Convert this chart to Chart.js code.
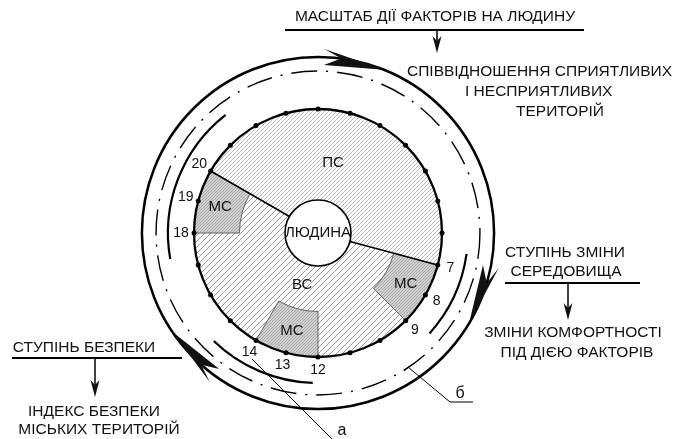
<!DOCTYPE html>
<html>
<head>
<meta charset="utf-8">
<script src="https://cdn.jsdelivr.net/npm/chart.js@4.4.0/dist/chart.umd.min.js"></script>
<style>
  html, body { margin: 0; padding: 0; background: #fff; }
  canvas { display: block; }
</style>
</head>
<body>
<canvas id="myChart" width="676" height="439"></canvas>
<script>
// Disk sectors, outer ring, clockwise from node 20 (span in degrees)
const outerRingNames = ['ПС', 'МС', 'ВС', 'МС', 'ВС', 'МС'];
const outerRingSpans = [165, 30, 45, 30, 60, 30];
// Inner ring, next to the person
const innerRingNames = ['ПС', 'ВС'];
const innerRingSpans = [165, 195];
// Points on the disk edge
const nodeCount = 24;
const numberedNodes = [7, 8, 9, 12, 13, 14, 18, 19, 20];
const centreLabel = 'ЛЮДИНА';
// Notes around the diagram
const topNote = 'МАСШТАБ ДІЇ ФАКТОРІВ НА ЛЮДИНУ';
const topResult = ['СПІВВІДНОШЕННЯ СПРИЯТЛИВИХ', 'І НЕСПРИЯТЛИВИХ', 'ТЕРИТОРІЙ'];
const rightNote = ['СТУПІНЬ ЗМІНИ', 'СЕРЕДОВИЩА'];
const rightResult = ['ЗМІНИ КОМФОРТНОСТІ', 'ПІД ДІЄЮ ФАКТОРІВ'];
const leftNote = 'СТУПІНЬ БЕЗПЕКИ';
const leftResult = ['ІНДЕКС БЕЗПЕКИ', 'МІСЬКИХ ТЕРИТОРІЙ'];
const ringMarks = ['а', 'б'];

const canvas = document.getElementById('myChart');
const ctx = canvas.getContext('2d');
const FONT = '"Liberation Sans", Arial, sans-serif';

// diagonal hatching
function hatch(gap, line, bg, width) {
  const c = document.createElement('canvas');
  c.width = gap; c.height = gap;
  const g = c.getContext('2d');
  g.fillStyle = bg;
  g.fillRect(0, 0, gap, gap);
  g.strokeStyle = line;
  g.lineWidth = width;
  g.beginPath();
  g.moveTo(-1, gap + 1); g.lineTo(gap + 1, -1);
  g.moveTo(-1, 1); g.lineTo(1, -1);
  g.moveTo(gap - 1, gap + 1); g.lineTo(gap + 1, gap - 1);
  g.stroke();
  return ctx.createPattern(c, 'repeat');
}

const fills = {
  'ПС': hatch(4, '#a8a8a8', '#ffffff', 0.8),
  'ВС': hatch(6, '#8c8c8c', '#ffffff', 0.9),
  'МС': hatch(3, '#9a9a9a', '#d0d0d0', 0.7)
};

const rad = d => d * Math.PI / 180;

function vArrow(c, x, y0, y1) {
  c.beginPath();
  c.moveTo(x, y0);
  c.lineTo(x, y1 - 10);
  c.lineWidth = 1.5;
  c.stroke();
  c.beginPath();
  c.moveTo(x, y1);
  c.lineTo(x - 4.5, y1 - 17);
  c.lineTo(x, y1 - 12);
  c.lineTo(x + 4.5, y1 - 17);
  c.closePath();
  c.fill();
}

const diagramPlugin = {
  id: 'diagram',
  beforeDraw(chart) {
    const c = chart.ctx;
    c.save();
    c.fillStyle = '#fff';
    c.fillRect(0, 0, chart.width, chart.height);
    c.restore();
  },
  afterDatasetsDraw(chart) {
    const c = chart.ctx;
    const outer = chart.getDatasetMeta(0).data;
    const inner = chart.getDatasetMeta(1).data;
    const cx = outer[0].x, cy = outer[0].y;
    const R = outer[0].outerRadius;
    const rMid = outer[0].innerRadius;
    const r0 = inner[0].innerRadius;
    const pt = (r, a) => [cx + r * Math.cos(a), cy + r * Math.sin(a)];

    c.save();
    c.strokeStyle = '#000';
    c.fillStyle = '#000';

    // МС outlines
    c.strokeStyle = '#555';
    c.lineWidth = 0.9;
    outer.forEach((arc, i) => {
      if (outerRingNames[i] !== 'МС') return;
      c.beginPath();
      c.moveTo(...pt(R, arc.startAngle));
      c.lineTo(...pt(rMid, arc.startAngle));
      c.arc(cx, cy, rMid, arc.startAngle, arc.endAngle);
      c.lineTo(...pt(R, arc.endAngle));
      c.stroke();
    });

    // dividers between ПС and ВС
    c.strokeStyle = '#000';
    c.lineWidth = 1.6;
    [outer[0].startAngle, outer[0].endAngle].forEach(a => {
      c.beginPath();
      c.moveTo(...pt(r0, a));
      c.lineTo(...pt(R, a));
      c.stroke();
    });

    // disk edge and person circle
    c.lineWidth = 2.3;
    c.beginPath(); c.arc(cx, cy, R, 0, Math.PI * 2); c.stroke();
    c.lineWidth = 1.6;
    c.beginPath(); c.arc(cx, cy, r0, 0, Math.PI * 2); c.stroke();

    // nodes
    for (let k = 1; k <= nodeCount; k++) {
      const a = rad(-90 + 360 / nodeCount * k);
      c.beginPath();
      c.arc(...pt(R, a), 2.5, 0, Math.PI * 2);
      c.fill();
    }

    // node numbers
    c.fillStyle = '#111';
    c.font = '14px ' + FONT;
    c.textAlign = 'center';
    c.textBaseline = 'middle';
    numberedNodes.forEach(k => {
      const a = rad(-90 + 360 / nodeCount * k);
      c.fillText(String(k), ...pt(R + 13, a));
    });

    // sector names
    c.font = '15px ' + FONT;
    outer.forEach((arc, i) => {
      if (outerRingNames[i] !== 'МС') return;
      const p = arc.getCenterPoint();
      c.fillText('МС', p.x, p.y);
    });
    c.fillText(innerRingNames[0], ...pt(72, rad(-78)));
    c.fillText(innerRingNames[1], ...pt(54, rad(107)));
    c.fillText(centreLabel, cx, cy);

    // outer circulation rings
    const Ro = R * 1.42, Rd = R * 1.306, Ri = R * 1.21;
    c.strokeStyle = '#000';
    c.lineWidth = 2.5;
    c.beginPath(); c.arc(cx, cy, Ro, 0, Math.PI * 2); c.stroke();

    c.lineWidth = 1.4;
    c.setLineDash([26, 9, 2, 9]);
    c.beginPath(); c.arc(cx, cy, Rd, 0, Math.PI * 2); c.stroke();
    c.setLineDash([]);

    c.lineWidth = 2.2;
    [[170, 232], [8, 42], [92, 134]].forEach(([a0, a1]) => {
      c.beginPath(); c.arc(cx, cy, Ri, rad(a0), rad(a1)); c.stroke();
    });

    // arrowheads pointing clockwise
    [-68, 31, 146].forEach(tip => {
      const len = 20;
      c.beginPath();
      c.moveTo(...pt(Ro, rad(tip)));
      c.lineTo(...pt(Ro + 8, rad(tip - len)));
      c.lineTo(...pt(Ro, rad(tip - len * 0.72)));
      c.lineTo(...pt(Ro - 8, rad(tip - len)));
      c.closePath();
      c.fill();
    });

    // leaders а and б
    c.lineWidth = 1;
    c.beginPath();
    c.moveTo(cx - 66, cy + 126);
    c.lineTo(cx + 14, cy + 206);
    c.stroke();
    c.beginPath();
    c.moveTo(cx + 86, cy + 138);
    c.lineTo(cx + 96, cy + 130);
    c.moveTo(cx + 90, cy + 134);
    c.lineTo(cx + 132, cy + 169);
    c.lineTo(cx + 155, cy + 169);
    c.stroke();
    c.font = '16px ' + FONT;
    c.fillText(ringMarks[0], cx + 24, cy + 198);
    c.fillText(ringMarks[1], cx + 142, cy + 161);

    // notes
    c.font = '15.5px ' + FONT;
    c.textAlign = 'center';
    c.fillText(topNote, 435, 17);
    c.lineWidth = 2;
    c.beginPath(); c.moveTo(285, 30); c.lineTo(584, 30); c.stroke();
    vArrow(c, 437, 30, 53);
    c.textAlign = 'left';
    c.fillText(topResult[0], 407, 72);
    c.fillText(topResult[1], 465, 92);
    c.textAlign = 'center';
    c.fillText(topResult[2], 560, 112);

    c.fillText(rightNote[0], 565, 253);
    c.fillText(rightNote[1], 566, 272);
    c.lineWidth = 2;
    c.beginPath(); c.moveTo(505, 283); c.lineTo(640, 283); c.stroke();
    vArrow(c, 568, 283, 320);
    c.fillText(rightResult[0], 573, 333);
    c.fillText(rightResult[1], 577, 353);

    c.fillText(leftNote, 84, 348);
    c.lineWidth = 2;
    c.beginPath(); c.moveTo(12, 358); c.lineTo(182, 358); c.stroke();
    vArrow(c, 95, 358, 397);
    c.fillText(leftResult[0], 94, 412);
    c.fillText(leftResult[1], 99, 430);

    c.restore();
  }
};

const config = {
  type: 'doughnut',
  data: {
    labels: outerRingNames,
    datasets: [
      {
        data: outerRingSpans,
        backgroundColor: outerRingNames.map(n => fills[n]),
        borderWidth: 0,
        hoverBorderWidth: 0,
        hoverOffset: 0
      },
      {
        data: innerRingSpans,
        backgroundColor: innerRingNames.map(n => fills[n]),
        borderWidth: 0,
        hoverBorderWidth: 0,
        hoverOffset: 0
      }
    ]
  },
  options: {
    responsive: false,
    animation: false,
    events: [],
    rotation: 300,
    circumference: 360,
    cutout: '26.6%',
    layout: { padding: { left: 194, right: 234, top: 109, bottom: 82 } },
    plugins: { legend: { display: false }, tooltip: { enabled: false } }
  },
  plugins: [diagramPlugin]
};

const myChart = new Chart(ctx, config);
</script>
</body>
</html>
